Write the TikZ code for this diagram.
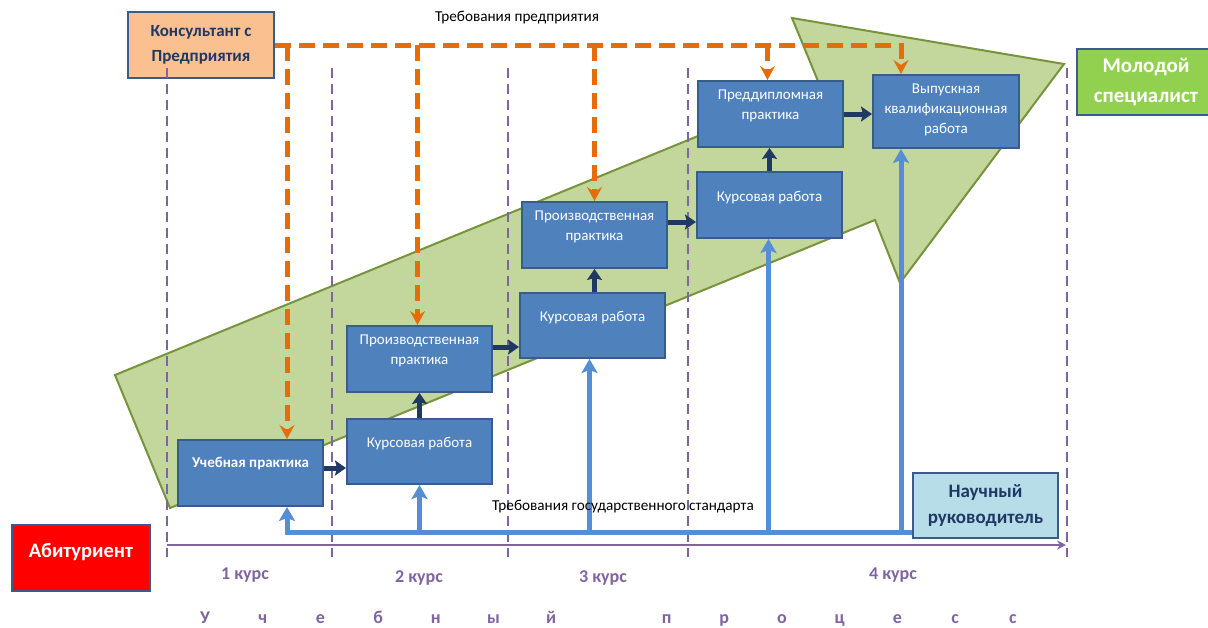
\documentclass[tikz,border=0pt]{standalone}
\usepackage{fontspec}
\setmainfont{Carlito}
\usetikzlibrary{arrows.meta,positioning,calc}
\definecolor{stageblue}{HTML}{4F81BD}
\definecolor{stageline}{HTML}{385D8A}
\definecolor{flowdark}{HTML}{1F3864}
\definecolor{govblue}{HTML}{558ED5}
\definecolor{reqorange}{HTML}{E46C0A}
\definecolor{coursepurple}{HTML}{8064A2}
\definecolor{arrowgreen}{HTML}{C3D69B}
\definecolor{arrowedge}{HTML}{77933C}
\definecolor{konsfill}{HTML}{FAC090}
\definecolor{mentorfill}{HTML}{B7DEE8}
\definecolor{youngfill}{HTML}{92D050}
\definecolor{navytext}{HTML}{1F3864}

\begin{document}
\begin{tikzpicture}[
  x=1pt, y=-1pt,
  stage/.style={draw=stageline, line width=2pt, fill=stageblue, text=white, align=center,
                minimum width=145pt, minimum height=66pt, text depth=18pt,
                font=\fontsize{15}{20}\selectfont},
  role/.style={draw=stageline, line width=2pt, align=center, minimum height=66pt,
               font=\bfseries\fontsize{17}{25}\selectfont},
  flow/.style={draw=flowdark, line width=5pt, -{Stealth[length=11pt,width=15pt,inset=2pt]}},
  govline/.style={draw=govblue, line width=5pt},
  govtip/.style={-{Stealth[length=14pt,width=16pt,inset=3pt]}},
  reqline/.style={draw=reqorange, line width=5pt, dash pattern=on 16pt off 8pt},
  reqtip/.style={-{Stealth[length=14pt,width=15pt,inset=5pt]}},
  tick/.style={draw=coursepurple, line width=2.5pt, dash pattern=on 10pt off 6pt},
  course/.style={text=coursepurple, font=\bfseries\fontsize{18}{20}\selectfont},
  note/.style={font=\fontsize{15.2}{17}\selectfont}
]
  \useasboundingbox (0,0) rectangle (1208,627);

  % big green arrow
  \draw[fill=arrowgreen, draw=arrowedge, line width=2pt]
    (115,375) -- (820,86) -- (792,18) -- (1064,64) -- (900,283) -- (875,220) -- (170,508) -- cycle;

  % people
  \node[role, fill=konsfill, text=navytext, minimum width=146pt] (kons) at (201,45) {Консультант с\\Предприятия};
  \node[role, fill=red, text=white, minimum width=138pt, text depth=16pt,
        font=\bfseries\fontsize{20.5}{22}\selectfont] (abit) at (81,558) {Абитуриент};
  \node[role, fill=mentorfill, text=navytext, minimum width=145pt, minimum height=65pt,
        font=\bfseries\fontsize{19}{26}\selectfont] (nauch) at (985.5,505.5) {Научный\\руководитель};
  \node[role, fill=youngfill, text=white, minimum width=138pt,
        font=\bfseries\fontsize{21}{30}\selectfont] (mol) at (1146,82) {Молодой\\специалист};

  % stages
  \node[stage, text depth=22pt, font=\bfseries\fontsize{15}{20}\selectfont] (uch) at (250.5,473) {Учебная практика};
  \node[stage, minimum height=65pt] (kr2) at (419.5,451.5) {Курсовая работа};
  \node[stage, above=25pt of kr2] (pp2) {Производственная\\практика};
  \node[stage, minimum height=65pt] (kr3) at (592.5,325.5) {Курсовая работа};
  \node[stage, above=23pt of kr3, xshift=2pt] (pp3) {Производственная\\практика};
  \node[stage] (kr4) at (769.5,205) {Курсовая работа};
  \node[stage, above=23pt of kr4, xshift=1pt] (pdp) {Преддипломная\\практика};
  \node[stage, minimum width=146pt, minimum height=73pt, text depth=5pt] (vkr) at (946,111.5)
    {Выпускная\\квалификационная\\работа};

  % course ticks and time axis
  \foreach \x in {167,332,508,688,1067}
    \draw[tick] (\x,68) -- (\x,557);
  \coordinate (tl0) at (167,545);
  \coordinate (tl1) at (1066,545);
  \draw[coursepurple, line width=2.5pt, -{Stealth[length=9pt,width=9pt]}] (tl0) -- (tl1);

  \node[course] (c1) at (245,575) {1 курс};
  \node[course] (c2) at (419,578) {2 курс};
  \node[course] (c3) at (603,578) {3 курс};
  \node[course] (c4) at (893,575) {4 курс};
  \foreach \ch/\i in {У/0,ч/1,е/2,б/3,н/4,ы/5,й/6,п/8,р/9,о/10,ц/11,е/12,с/13,с/14}
    \node[course, anchor=base] (proc\i) at (205+57.7*\i,623) {\ch};

  % state standard
  \coordinate (bus) at ([yshift=7pt]nauch.south west);
  \coordinate (uchgov) at ([xshift=110pt]uch.south west);
  \coordinate (vkrgov) at ([xshift=29pt]vkr.south west);
  \draw[govline, govtip] (bus) -| (uchgov);
  \draw[govline, govtip] (kr2.south |- bus) -- (kr2.south);
  \draw[govline, govtip] ([xshift=-3pt]kr3.south |- bus) -- ([xshift=-3pt]kr3.south);
  \draw[govline, govtip] ([xshift=-1pt]kr4.south |- bus) -- ([xshift=-1pt]kr4.south);
  \draw[govline, govtip] (vkrgov |- bus) -- (vkrgov);
  \node[note] (govlabel) at (623,507) {Требования государственного стандарта};

  % enterprise requirements
  \coordinate (uchreq) at ([xshift=110pt]uch.north west);
  \coordinate (vkrreq) at ([xshift=29pt]vkr.north west);
  \draw[reqline, reqtip] (kons.east) -| (vkrreq);
  \draw[reqline, reqtip] (uchreq |- kons.east) -- (uchreq);
  \draw[reqline, reqtip] ([xshift=-2pt]pp2.north |- kons.east) -- ([xshift=-2pt]pp2.north);
  \draw[reqline, reqtip] (pp3.north |- kons.east) -- (pp3.north);
  \draw[reqline, reqtip] ([xshift=-3pt]pdp.north |- kons.east) -- ([xshift=-3pt]pdp.north);
  \node[note] (reqlabel) at (517,18) {Требования предприятия};

  % study path
  \draw[flow] ([yshift=5pt]uch.east) -- ([yshift=5pt]uch.east -| kr2.west);
  \draw[flow] (kr2.north) -- (pp2.south);
  \draw[flow] ([yshift=12pt]pp2.east) -- ([yshift=12pt]pp2.east -| kr3.west);
  \draw[flow] (pp3.south |- kr3.north) -- (pp3.south);
  \draw[flow] ([yshift=13pt]pp3.east) -- ([yshift=13pt]pp3.east -| kr4.west);
  \draw[flow] (kr4.north) -- (kr4.north |- pdp.south);
  \draw[flow] (pdp.east) -- (pdp.east -| vkr.west);
\end{tikzpicture}
\end{document}
